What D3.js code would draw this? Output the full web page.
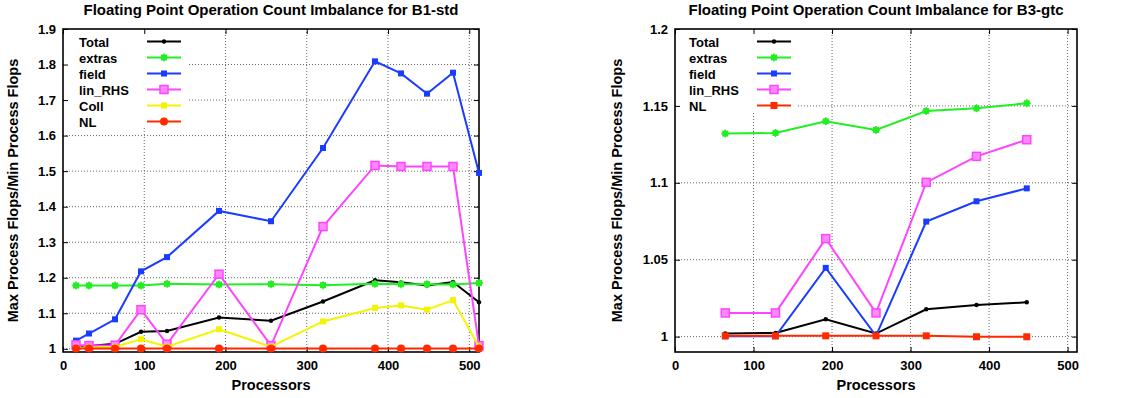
<!DOCTYPE html>
<html>
<head>
<meta charset="utf-8">
<script src="https://cdn.jsdelivr.net/npm/d3@7"></script>
<style>
  body { margin: 0; background: #fff; }
  svg text { font-family: "Liberation Sans", Arial, Helvetica, sans-serif; font-weight: bold; fill: #000; }
</style>
</head>
<body>
<svg id="chart" width="1127" height="398"></svg>
<script>
// B1-std run
const b1Procs = [16, 32, 64, 96, 128, 192, 256, 320, 384, 416, 448, 480, 512];
const b1Total = [1.006, 1.008, 1.014, 1.048, 1.050, 1.088, 1.079, 1.133, 1.193, 1.187, 1.178, 1.188, 1.131];
const b1Extras = [1.178, 1.178, 1.178, 1.178, 1.183, 1.181, 1.182, 1.179, 1.183, 1.182, 1.182, 1.181, 1.185];
const b1Field = [1.023, 1.043, 1.083, 1.218, 1.258, 1.388, 1.359, 1.565, 1.809, 1.775, 1.718, 1.777, 1.495];
const b1LinRHS = [1.011, 1.009, 1.010, 1.110, 1.013, 1.210, 1.009, 1.344, 1.516, 1.513, 1.513, 1.513, 1.009];
const b1Coll = [1.003, 1.004, 1.005, 1.027, 1.006, 1.055, 1.006, 1.077, 1.115, 1.122, 1.110, 1.137, 1.006];
const b1NL = [1.001, 1.001, 1.001, 1.001, 1.001, 1.001, 1.001, 1.001, 1.001, 1.001, 1.001, 1.001, 1.001];

// B3-gtc run
const b3Procs = [64, 128, 192, 256, 320, 384, 448];
const b3Total = [1.0020, 1.0024, 1.0113, 1.0020, 1.0178, 1.0206, 1.0223];
const b3Extras = [1.1320, 1.1324, 1.1400, 1.1344, 1.1467, 1.1484, 1.1517];
const b3Field = [1.0002, 1.0002, 1.0447, 1.0005, 1.0748, 1.0880, 1.0964];
const b3LinRHS = [1.0154, 1.0154, 1.0637, 1.0154, 1.1003, 1.1172, 1.1280];
const b3NL = [1.0005, 1.0005, 1.0005, 1.0005, 1.0005, 0.9999, 0.9999];

const xTicks = [0, 100, 200, 300, 400, 500];
const b1YTicks = [1, 1.1, 1.2, 1.3, 1.4, 1.5, 1.6, 1.7, 1.8, 1.9];
const b3YTicks = [1, 1.05, 1.1, 1.15, 1.2];

const colors = {
    Total: "#000000",
    extras: "#22ee22",
    field: "#1a3cff",
    lin_RHS: "#ff44ff",
    Coll: "#f4f400",
    NL: "#ff2a00"
};

const svg = d3.select("#chart");

function drawMarker(g, shape, x, y, color) {
    if (shape === "dot") {
        g.append("circle").attr("cx", x).attr("cy", y).attr("r", 2.2).attr("fill", color);
    } else if (shape === "circle") {
        g.append("circle").attr("cx", x).attr("cy", y).attr("r", 4).attr("fill", color);
    } else if (shape === "star") {
        g.append("rect").attr("x", x - 3).attr("y", y - 3).attr("width", 6).attr("height", 6)
            .attr("fill", color);
        g.append("path").attr("d", `M${x - 4},${y}H${x + 4}M${x},${y - 4}V${y + 4}`)
            .attr("stroke", color).attr("stroke-width", 1.5);
    } else if (shape === "square") {
        g.append("rect").attr("x", x - 3).attr("y", y - 3).attr("width", 6).attr("height", 6).attr("fill", color);
    } else if (shape === "bigsquare") {
        g.append("rect").attr("x", x - 4).attr("y", y - 4).attr("width", 8).attr("height", 8)
            .attr("fill", "#ff88ff").attr("stroke", color).attr("stroke-width", 1.5);
    } else if (shape === "redsquare") {
        g.append("rect").attr("x", x - 3.5).attr("y", y - 3.5).attr("width", 7).attr("height", 7).attr("fill", color);
    }
}

function drawChart(opts) {
    const { left, right, top, bottom } = opts;

    const xScale = d3.scaleLinear().domain([0, 512]).range([left, right]);
    const yScale = d3.scaleLinear().domain(opts.yDomain).range([bottom, top]);

    const g = svg.append("g");

    // dotted grid
    const grid = g.append("g");
    xTicks.filter(t => t > 0).forEach(t => {
        grid.append("line")
            .attr("x1", xScale(t)).attr("x2", xScale(t))
            .attr("y1", top).attr("y2", bottom);
    });
    opts.yTicks.filter(t => t > opts.yDomain[0] && t < opts.yDomain[1]).forEach(t => {
        grid.append("line")
            .attr("x1", left).attr("x2", right)
            .attr("y1", yScale(t)).attr("y2", yScale(t));
    });
    grid.selectAll("line")
        .attr("stroke", "#666")
        .attr("stroke-width", 1)
        .attr("stroke-dasharray", "1,2");

    // key box hides grid behind it
    g.append("rect")
        .attr("x", left + 1).attr("y", top + 1)
        .attr("width", opts.keyWidth).attr("height", opts.keyHeight)
        .attr("fill", "#fff");

    // axes with inward ticks on all sides
    const xAxis = d3.axisBottom(xScale).tickValues(xTicks).tickSize(-5).tickPadding(9).tickFormat(d3.format("d"));
    const yAxis = d3.axisLeft(yScale).tickValues(opts.yTicks).tickSize(-5).tickPadding(7).tickFormat(d => String(d));

    g.append("g").attr("transform", `translate(0,${bottom})`).call(xAxis);
    g.append("g").attr("transform", `translate(${left},0)`).call(yAxis);
    g.append("g").attr("transform", `translate(0,${top})`)
        .call(d3.axisTop(xScale).tickValues(xTicks).tickSize(-5).tickFormat(""));
    g.append("g").attr("transform", `translate(${right},0)`)
        .call(d3.axisRight(yScale).tickValues(opts.yTicks).tickSize(-5).tickFormat(""));

    g.selectAll(".domain").remove();
    g.selectAll(".tick line").attr("stroke", "#000").attr("stroke-width", 1);
    g.selectAll(".tick text").style("font-size", "13px").attr("fill", "#000");

    g.append("rect")
        .attr("x", left).attr("y", top)
        .attr("width", right - left).attr("height", bottom - top)
        .attr("fill", "none").attr("stroke", "#000").attr("stroke-width", 1.6);

    // series
    const line = d3.line()
        .x(d => xScale(d[0]))
        .y(d => yScale(d[1]));

    opts.series.forEach(s => {
        const pts = opts.procs.map((p, i) => [p, s.values[i]]);
        g.append("path")
            .datum(pts)
            .attr("d", line)
            .attr("fill", "none")
            .attr("stroke", colors[s.name])
            .attr("stroke-width", 2);
        const mg = g.append("g");
        pts.forEach(p => drawMarker(mg, s.marker, xScale(p[0]), yScale(p[1]), colors[s.name]));
    });

    // legend
    const key = g.append("g");
    opts.series.forEach((s, i) => {
        const y = top + 12.5 + i * 16;
        key.append("text")
            .attr("x", opts.keyTextX).attr("y", y + 5)
            .style("font-size", "13px")
            .text(s.name);
        key.append("line")
            .attr("x1", opts.keySampleX).attr("x2", opts.keySampleX + 34)
            .attr("y1", y).attr("y2", y)
            .attr("stroke", colors[s.name]).attr("stroke-width", 2);
        drawMarker(key, s.marker, opts.keySampleX + 17, y, colors[s.name]);
    });

    // titles
    g.append("text")
        .attr("x", (left + right) / 2).attr("y", 15)
        .attr("text-anchor", "middle")
        .style("font-size", "15px")
        .text(opts.title);

    g.append("text")
        .attr("x", (left + right) / 2).attr("y", 390)
        .attr("text-anchor", "middle")
        .style("font-size", "14.5px")
        .text("Processors");

    g.append("text")
        .attr("transform", `translate(${opts.yLabelX},${(top + bottom) / 2}) rotate(-90)`)
        .attr("text-anchor", "middle")
        .style("font-size", "14.5px")
        .text("Max Process Flops/Min Process Flops");
}

drawChart({
    title: "Floating Point Operation Count Imbalance for B1-std",
    left: 63, right: 479, top: 29, bottom: 352,
    yDomain: [0.991, 1.9],
    yTicks: b1YTicks,
    procs: b1Procs,
    keyWidth: 123, keyHeight: 98,
    keyTextX: 79, keySampleX: 147,
    yLabelX: 18,
    series: [
        { name: "Total", values: b1Total, marker: "dot" },
        { name: "extras", values: b1Extras, marker: "star" },
        { name: "field", values: b1Field, marker: "square" },
        { name: "lin_RHS", values: b1LinRHS, marker: "bigsquare" },
        { name: "Coll", values: b1Coll, marker: "square" },
        { name: "NL", values: b1NL, marker: "circle" }
    ]
});

drawChart({
    title: "Floating Point Operation Count Imbalance for B3-gtc",
    left: 675, right: 1077, top: 29, bottom: 352,
    yDomain: [0.99, 1.2],
    yTicks: b3YTicks,
    procs: b3Procs,
    keyWidth: 121, keyHeight: 83,
    keyTextX: 689, keySampleX: 757,
    yLabelX: 622,
    series: [
        { name: "Total", values: b3Total, marker: "dot" },
        { name: "extras", values: b3Extras, marker: "star" },
        { name: "field", values: b3Field, marker: "square" },
        { name: "lin_RHS", values: b3LinRHS, marker: "bigsquare" },
        { name: "NL", values: b3NL, marker: "redsquare" }
    ]
});
</script>
</body>
</html>
